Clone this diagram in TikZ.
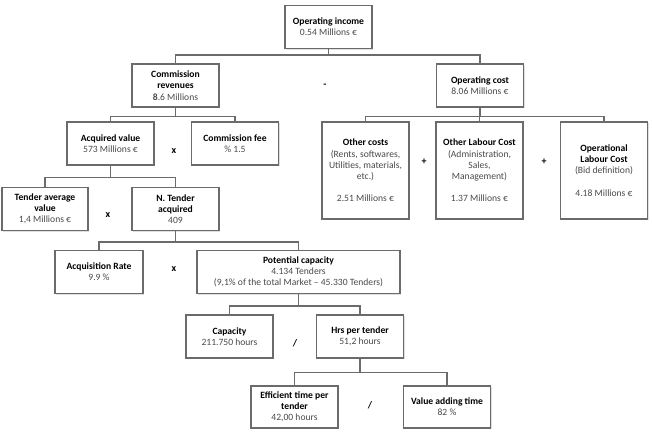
\documentclass[tikz,border=0pt]{standalone}
\usepackage{fontspec}
\setmainfont{Carlito}
\usepackage{xcolor}
\usetikzlibrary{shadows}
\definecolor{boxline}{HTML}{6B6B6B}
\definecolor{valtext}{HTML}{4A4A4A}
\newcommand{\val}[1]{\textcolor{valtext}{#1}}

\begin{document}
\begin{tikzpicture}[x=1pt,y=-1pt,font=\fontsize{9.6}{11.2}\selectfont,
  box/.style={draw=boxline,line width=1.3pt,fill=white,rounded corners=0pt,minimum width=87pt,minimum height=43pt,align=center,inner sep=1pt,
    drop shadow={opacity=0.25,shadow xshift=1pt,shadow yshift=-1pt}},
  tall/.style={box,minimum height=97pt},
  wide/.style={box,minimum width=203pt},
  op/.style={font=\bfseries\fontsize{10}{11}\selectfont},
  ln/.style={draw=boxline,line width=1.6pt}]
\useasboundingbox (0,0) rectangle (652,434);
% level 0 and 1
\node[box] (inc) at (328.5,27) {\textbf{Operating income}\\\val{0.54 Millions €}};
\node[box] (rev) at (175.5,85.5) {\textbf{Commission}\\\textbf{revenues}\\\val{\textbf{8}.6 Millions}};
\node[box] (cost) at (480,85.5) {\textbf{Operating cost}\\\val{8.06 Millions €}};
\node[op] (minus) at (325,86) {-};
\draw[ln] (inc.south) -- ++(0,6) -| (rev.north);
\draw[ln] (inc.south) -- ++(0,6) -| (cost.north);
% revenues side
\node[box] (acq) at (110.5,143.5) {\textbf{Acquired value}\\\val{573 Millions €}};
\node[box] (fee) at (235,143.5) {\textbf{Commission fee}\\\val{\% 1.5}};
\node[op] (x1) at (174,151) {x};
\draw[ln] (rev.south) -- ++(0,9) -| (acq.north);
\draw[ln] (rev.south) -- ++(0,9) -| (fee.north);
% cost side
\node[tall] (oth) at (365.5,170.5) {\textbf{Other costs}\\\val{(Rents, softwares,}\\\val{Utilities, materials,}\\\val{etc.)}\\[11pt]\val{2.51 Millions €}};
\node[tall] (lab) at (479.5,170.5) {\textbf{Other Labour Cost}\\\val{(Administration,}\\\val{Sales,}\\\val{Management)}\\[11pt]\val{1.37 Millions €}};
\node[tall] (opl) at (604,170.5) {\textbf{Operational}\\\textbf{Labour Cost}\\\val{(Bid definition)}\\[11pt]\val{4.18 Millions €}};
\node[op] (p1) at (424,162) {+};
\node[op] (p2) at (544,162) {+};
\draw[ln] (cost.south) -- ++(0,9) -| (oth.north);
\draw[ln] (cost.south) -- ++(0,9) -| (lab.north);
\draw[ln] (cost.south) -- ++(0,9) -| (opl.north);
% acquired value
\node[box,minimum width=86pt] (avg) at (45,209) {\textbf{Tender average}\\\textbf{value}\\\val{1,4 Millions €}};
\node[box] (ntd) at (175.5,209) {\textbf{N. Tender}\\\textbf{acquired}\\\val{409}};
\node[op] (x2) at (108,215) {x};
\draw[ln] (acq.south) -- ++(0,12) -| (avg.north);
\draw[ln] (acq.south) -- ++(0,12) -| (ntd.north);
% tenders acquired
\node[box,minimum width=88pt] (rate) at (99,272) {\textbf{Acquisition Rate}\\\val{9.9 \%}};
\node[wide] (pot) at (298.5,272) {\textbf{Potential capacity}\\\val{4.134 Tenders}\\\val{(9,1\% of the total Market -- 45.330 Tenders)}};
\node[op] (x3) at (174,269) {x};
\draw[ln] (ntd.south) -- ++(0,11) -| (rate.north);
\draw[ln] (ntd.south) -- ++(0,11) -| (pot.north);
% potential capacity
\node[box] (capa) at (229.5,336.5) {\textbf{Capacity}\\\val{211.750 hours}};
\node[box] (hrs) at (360,336.5) {\textbf{Hrs per tender}\\\val{51,2 hours}};
\node[op] (d1) at (295,343) {/};
\draw[ln] (pot.south) -- ++(0,12) -| (capa.north);
\draw[ln] (pot.south) -- ++(0,12) -| (hrs.north);
% hours per tender
\node[box,minimum height=42pt] (eff) at (294.5,407) {\textbf{Efficient time per}\\\textbf{tender}\\\val{42,00 hours}};
\node[box,minimum height=42pt] (vat) at (447,407) {\textbf{Value adding time}\\\val{82 \%}};
\node[op] (d2) at (370,405) {/};
\draw[ln] (hrs.south) -- ++(0,14) -| (eff.north);
\draw[ln] (hrs.south) -- ++(0,14) -| (vat.north);
\end{tikzpicture}
\end{document}
